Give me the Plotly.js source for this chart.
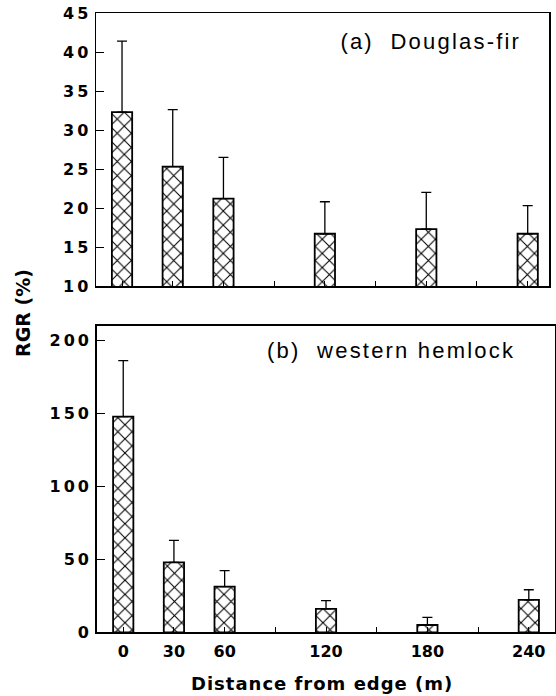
<!DOCTYPE html>
<html>
<head>
<meta charset="utf-8">
<script src="https://cdn.plot.ly/plotly-3.0.1.min.js"></script>
<style>
  html, body { margin: 0; padding: 0; background: #fff; }
  #chart { width: 556px; height: 696px; }
  .yaxislayer-above .ytick text, .yaxislayer-above .y2tick text { letter-spacing: 3px; }
  g.annotation[data-index="0"] text, g.annotation[data-index="1"] text { letter-spacing: 2.2px; }
  g.annotation[data-index="3"] text { letter-spacing: 1px; }
</style>
</head>
<body>
<div id="chart"></div>
<script>
// Distance from edge (m)
const distances = [0, 30, 60, 120, 180, 240];
// (a) Douglas-fir RGR (%) means and upper error-bar ends
const douglasFir = [32.3, 25.3, 21.2, 16.7, 17.3, 16.7];
const douglasFirUpper = [41.4, 32.6, 26.5, 20.8, 22.0, 20.3];
// (b) western hemlock RGR (%) means and upper error-bar ends
const hemlock = [147.9, 48.0, 31.3, 16.0, 5.0, 22.2];
const hemlockUpper = [186.3, 63.1, 42.3, 21.7, 10.3, 29.2];
// tick labels
const xTickVals = [0, 30, 60, 90, 120, 150, 180, 210, 240];
const xTickText = ['0', '30', '60', '', '120', '', '180', '', '240'];
const yTopTicks = [10, 15, 20, 25, 30, 35, 40, 45];
const yBotTicks = [0, 50, 100, 150, 200];

const errPlus = (vals, upper) => upper.map((u, i) => +(u - vals[i]).toFixed(2));
const zeros = distances.map(() => 0);

const barStyle = {
  color: 'white',
  line: { color: 'black', width: 1.8 },
  pattern: { shape: 'x', size: 10, solidity: 0.2, fgcolor: 'black', bgcolor: 'white', fillmode: 'replace' }
};
const errStyle = { type: 'data', symmetric: false, color: 'black', thickness: 1.3, width: 5 };

const traces = [
  {
    type: 'bar', x: distances, y: douglasFir, width: 12,
    xaxis: 'x', yaxis: 'y', marker: barStyle,
    error_y: Object.assign({ array: errPlus(douglasFir, douglasFirUpper), arrayminus: zeros }, errStyle),
    hoverinfo: 'x+y', showlegend: false
  },
  {
    type: 'bar', x: distances, y: hemlock, width: 12,
    xaxis: 'x2', yaxis: 'y2', marker: barStyle,
    error_y: Object.assign({ array: errPlus(hemlock, hemlockUpper), arrayminus: zeros }, errStyle),
    hoverinfo: 'x+y', showlegend: false
  }
];

const tickFont = { family: 'DejaVu Sans', size: 16, color: 'black', weight: 'bold' };
const axisCommon = {
  showgrid: false, zeroline: false, showline: true, mirror: true,
  linecolor: 'black', linewidth: 1.5, ticks: 'inside', tickcolor: 'black',
  tickwidth: 1, tickfont: tickFont, fixedrange: true
};

const layout = {
  width: 556, height: 696,
  margin: { l: 0, r: 0, t: 0, b: 0 },
  paper_bgcolor: 'white', plot_bgcolor: 'white',
  showlegend: false,
  xaxis: Object.assign({}, axisCommon, {
    domain: [96 / 556, 549 / 556], range: [-15.4, 252.6], anchor: 'y',
    tickmode: 'array', tickvals: xTickVals, ticktext: xTickText,
    showticklabels: false, ticklen: 5
  }),
  yaxis: Object.assign({}, axisCommon, {
    domain: [1 - 286 / 696, 1 - 13 / 696], range: [10, 45], anchor: 'x',
    tickmode: 'array', tickvals: yTopTicks, ticklen: 8
  }),
  xaxis2: Object.assign({}, axisCommon, {
    domain: [96.7 / 556, 555 / 556], range: [-15.7, 255.5], anchor: 'y2',
    tickmode: 'array', tickvals: xTickVals, ticktext: xTickText,
    ticklen: 5, ticklabelstandoff: 4
  }),
  yaxis2: Object.assign({}, axisCommon, {
    domain: [1 - 632.3 / 696, 1 - 325.7 / 696], range: [0, 210.3], anchor: 'x2',
    tickmode: 'array', tickvals: yBotTicks, ticklen: 8
  }),
  annotations: [
    {
      text: '(a)  Douglas-fir', xref: 'paper', yref: 'paper',
      x: 430 / 556, y: 1 - 41 / 696, xanchor: 'center', yanchor: 'middle',
      showarrow: false, font: { family: 'Liberation Sans', size: 22, color: 'black' }
    },
    {
      text: '(b)  western hemlock', xref: 'paper', yref: 'paper',
      x: 391 / 556, y: 1 - 350 / 696, xanchor: 'center', yanchor: 'middle',
      showarrow: false, font: { family: 'Liberation Sans', size: 22, color: 'black' }
    },
    {
      text: 'RGR (%)', xref: 'paper', yref: 'paper',
      x: 23 / 556, y: 1 - 313 / 696, xanchor: 'center', yanchor: 'middle',
      textangle: -90, showarrow: false,
      font: { family: 'DejaVu Sans', size: 19, color: 'black', weight: 'bold' }
    },
    {
      text: 'Distance from edge (m)', xref: 'paper', yref: 'paper',
      x: 321.5 / 556, y: 1 - 683 / 696, xanchor: 'center', yanchor: 'middle',
      showarrow: false,
      font: { family: 'DejaVu Sans', size: 18, color: 'black', weight: 'bold' }
    }
  ]
};

Plotly.newPlot('chart', traces, layout, { staticPlot: true, displayModeBar: false });
</script>
</body>
</html>
